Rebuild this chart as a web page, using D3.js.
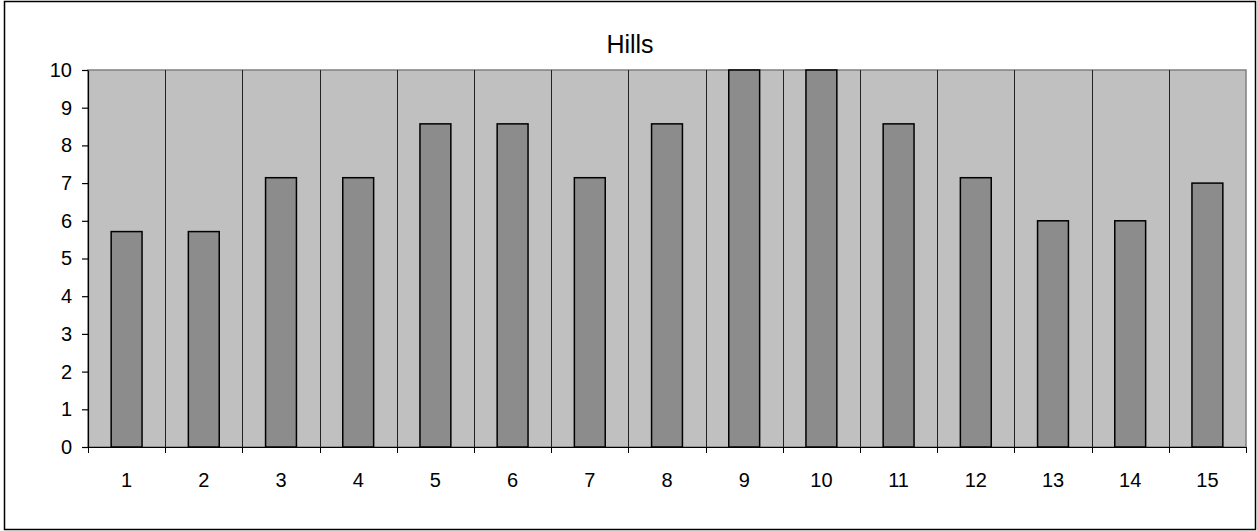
<!DOCTYPE html>
<html>
<head>
<meta charset="utf-8">
<script src="https://cdn.jsdelivr.net/npm/d3@7"></script>
<style>
  body { margin: 0; background: #fff; }
  svg text { font-family: "Liberation Sans", Arial, sans-serif; fill: #000; }
</style>
</head>
<body>
<div id="svg_container"></div>
<script>
/* -----------------------
data
------------------------- */

var categories = ["1","2","3","4","5","6","7","8","9","10","11","12","13","14","15"];
var values = [5.714, 5.714, 7.143, 7.143, 8.571, 8.571, 7.143, 8.571, 10, 10, 8.571, 7.143, 6, 6, 7];
var yTicks = [0,1,2,3,4,5,6,7,8,9,10];
var title = "Hills";

/* -----------------------
main variables
------------------------- */

var width = 1257;
var height = 531;
var plotArea = {left: 88, top: 70, right: 1246, bottom: 447};

var svg = d3.select("#svg_container")
	.append("svg")
	.attr("width", width)
	.attr("height", height)

// outer frame
svg.append("rect")
	.attr("x", 4.5)
	.attr("y", 1.5)
	.attr("width", 1251)
	.attr("height", 528)
	.attr("fill", "#fff")
	.attr("stroke", "#000")
	.attr("stroke-width", 1.5)

var x = d3.scaleBand()
	.domain(categories)
	.range([plotArea.left, plotArea.right])
	.paddingInner(0)
	.paddingOuter(0)

var y = d3.scaleLinear()
	.domain([0, 10])
	.range([plotArea.bottom, plotArea.top])

// plot background
svg.append("rect")
	.attr("x", plotArea.left)
	.attr("y", plotArea.top)
	.attr("width", plotArea.right - plotArea.left)
	.attr("height", plotArea.bottom - plotArea.top)
	.attr("fill", "#c0c0c0")
	.attr("stroke", "#808080")
	.attr("stroke-width", 1.5)

// vertical grid lines between categories
svg.selectAll(".grid")
	.data(categories.slice(1))
	.enter()
	.append("line")
	.attr("class", "grid")
	.attr("x1", function(d){ return Math.round(x(d)) + 0.5 })
	.attr("x2", function(d){ return Math.round(x(d)) + 0.5 })
	.attr("y1", plotArea.top)
	.attr("y2", plotArea.bottom)
	.attr("stroke", "#222")
	.attr("stroke-width", 1)

// bars
var barW = x.bandwidth() * 0.4;
svg.selectAll(".bar")
	.data(values)
	.enter()
	.append("rect")
	.attr("class", "bar")
	.attr("x", function(d,i){ return x(categories[i]) + (x.bandwidth() - barW) / 2 })
	.attr("y", function(d){ return y(d) })
	.attr("width", barW)
	.attr("height", function(d){ return y(0) - y(d) })
	.attr("fill", "#8c8c8c")
	.attr("stroke", "#000")
	.attr("stroke-width", 1.5)

// y axis
var yAxis = svg.append("g")
	.attr("transform", "translate(" + plotArea.left + ",0)")
	.call(d3.axisLeft(y).tickValues(yTicks).tickSize(6).tickPadding(10).tickSizeOuter(0))

yAxis.selectAll("text").style("font-size", "20px")
yAxis.selectAll("line, path").attr("stroke", "#000").attr("stroke-width", 1.2)

// x axis
var xAxis = svg.append("g")
	.attr("transform", "translate(0," + plotArea.bottom + ")")
	.call(d3.axisBottom(x).tickSize(0).tickPadding(26).tickSizeOuter(0))

xAxis.select(".domain").attr("stroke", "#000").attr("stroke-width", 1.2)
xAxis.selectAll("text").style("font-size", "20px")

// x ticks at category boundaries
var bounds = categories.map(function(d){ return x(d) }).concat([plotArea.right]);
svg.selectAll(".xtick")
	.data(bounds)
	.enter()
	.append("line")
	.attr("class", "xtick")
	.attr("x1", function(d){ return Math.round(d) + 0.5 })
	.attr("x2", function(d){ return Math.round(d) + 0.5 })
	.attr("y1", plotArea.bottom)
	.attr("y2", plotArea.bottom + 6)
	.attr("stroke", "#000")
	.attr("stroke-width", 1)

// title
svg.append("text")
	.attr("x", 630)
	.attr("y", 53)
	.attr("text-anchor", "middle")
	.style("font-size", "25px")
	.text(title)
</script>
</body>
</html>
